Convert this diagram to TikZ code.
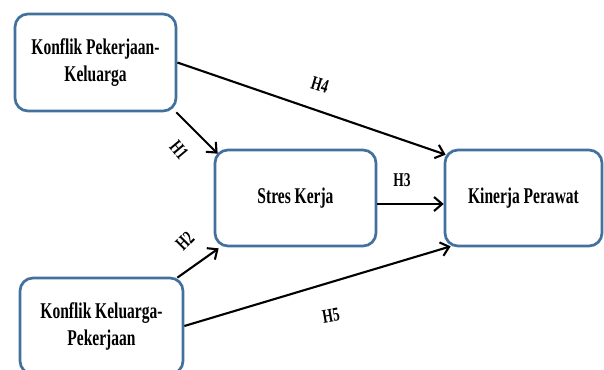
\documentclass[tikz,border=0pt]{standalone}
\usepackage{fontspec}
\setmainfont{Liberation Serif}[FakeStretch=0.69]
\usetikzlibrary{arrows.meta,calc}
\definecolor{boxblue}{RGB}{65,113,156}
\tikzset{
  box/.style={draw=boxblue, line width=2.7pt, rounded corners=13pt, align=center,
    font=\fontsize{22.5}{27}\selectfont\bfseries, inner sep=0pt},
  arr/.style={line width=2.1pt, -{Straight Barb[length=8pt,width=14pt,line width=2.1pt]}},
  hlab/.style={font=\fontsize{19.5}{22}\selectfont\bfseries, inner sep=0pt}
}
\begin{document}
\begin{tikzpicture}[x=1pt,y=-1pt]
\useasboundingbox (0,0) rectangle (604,369);
\clip (0,0) rectangle (604,369);
\node[box, minimum width=161pt, minimum height=97pt] (a) at (95.5,62.5) {Konflik Pekerjaan-\\Keluarga};
\node[box, minimum width=161pt, minimum height=96pt] (b) at (295.5,198) {Stres Kerja};
\node[box, minimum width=157pt, minimum height=96pt] (c) at (523.5,198) {Kinerja Perawat};
\node[box, minimum width=163pt, minimum height=96pt] (d) at (101.5,326) {Konflik Keluarga-\\Pekerjaan};
\coordinate (a1) at ([shift={(-1,0)}]a.south east);
\coordinate (d1) at ([shift={(-7,1)}]d.north east);
\draw[arr] (a.east) -- ([shift={(2,6)}]c.north west);
\draw[arr] (a1) -- ([shift={(4,5)}]b.north west);
\draw[arr] (d1) -- ([shift={(5,1)}]b.south west);
\draw[arr] ([shift={(0,6)}]b.east) -- ([shift={(0,6)}]c.west);
\draw[arr] (d.east) -- ([shift={(7,-1)}]c.south west);
\node[hlab, rotate=-17] (h4) at (320,85) {H4};
\node[hlab, rotate=-50] (h1) at (179,150) {H1};
\node[hlab, rotate=45] (h2) at (185,241) {H2};
\node[hlab] (h3) at (402,180) {H3};
\node[hlab, rotate=10] (h5) at (331,316) {H5};
\end{tikzpicture}
\end{document}
